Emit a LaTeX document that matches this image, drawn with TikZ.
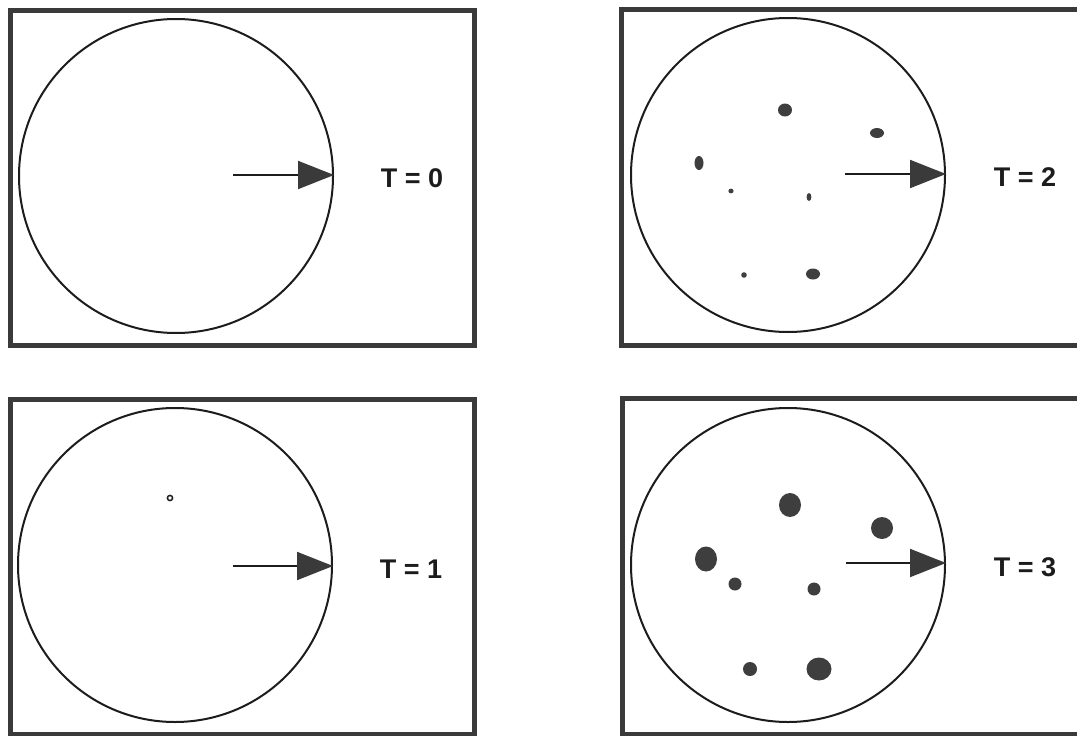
\documentclass[tikz,border=0pt]{standalone}
\usepackage{fontspec}
\setmainfont{Liberation Sans}
\usetikzlibrary{arrows.meta}
\definecolor{ink}{HTML}{1C1C1C}
\definecolor{frame}{HTML}{3A3A3A}
\definecolor{blob}{HTML}{3E3E3E}
\tikzset{
  panel/.style={draw=frame, line width=5pt},
  disc/.style={circle, draw=ink, line width=2pt, minimum size=314pt, inner sep=0pt},
  flow/.style={draw=ink, line width=2pt, -{Triangle[length=36pt, width=28pt, fill=frame, color=frame]}},
  lbl/.style={font=\fontsize{27}{30}\selectfont\bfseries, text=ink},
  blobfill/.style={fill=blob},
}
\begin{document}
\begin{tikzpicture}[x=1pt, y=-1pt]
  \clip (0,0) rectangle (1077,736);
  \fill[white] (0,0) rectangle (1077,736);

  % frames
  \draw[panel] (10,10) rectangle (474,345.5);
  \draw[panel] (621.5,9.5) rectangle (1100,345);
  \draw[panel] (10,399) rectangle (474,734);
  \draw[panel] (622,398) rectangle (1100,734);

  % T = 0
  \node[disc] (c0) at (176,176) {};
  \coordinate (s0) at (233,175);
  \draw[flow] (s0) -- (s0 -| c0.east);
  \node[lbl] (t0) at (412,178) {T = 0};

  % T = 1
  \node[disc] (c1) at (175,565) {};
  \coordinate (s1) at (233,566);
  \draw[flow] (s1) -- (s1 -| c1.east);
  \node[lbl] (t1) at (411,569) {T = 1};
  \draw[ink, line width=1.5pt] (170,498) circle [radius=2.6];

  % T = 2
  \node[disc] (c2) at (788,175) {};
  \coordinate (s2) at (845,174);
  \draw[flow] (s2) -- (s2 -| c2.east);
  \node[lbl] (t2) at (1025,177) {T = 2};
  \fill[blobfill] (785,110) ellipse [x radius=7, y radius=6.5];
  \fill[blobfill] (877,133) ellipse [x radius=7, y radius=5];
  \fill[blobfill] (699,163) ellipse [x radius=4.5, y radius=7];
  \fill[blobfill] (731,191) ellipse [x radius=2.6, y radius=2.4];
  \fill[blobfill] (809,197) ellipse [x radius=2.4, y radius=4];
  \fill[blobfill] (744,275) ellipse [x radius=2.8, y radius=2.8];
  \fill[blobfill] (813,274) ellipse [x radius=7, y radius=5.5];

  % T = 3
  \node[disc] (c3) at (788,565) {};
  \coordinate (s3) at (846,563);
  \draw[flow] (s3) -- (s3 -| c3.east);
  \node[lbl] (t3) at (1025,567) {T = 3};
  \fill[blobfill] (790,505) ellipse [x radius=11, y radius=12];
  \fill[blobfill] (882,528) ellipse [x radius=11, y radius=11];
  \fill[blobfill] (706,559) ellipse [x radius=11, y radius=12.5];
  \fill[blobfill] (735,584) ellipse [x radius=6.5, y radius=6.5];
  \fill[blobfill] (814,589) ellipse [x radius=6.5, y radius=6.5];
  \fill[blobfill] (750,669) ellipse [x radius=7, y radius=7];
  \fill[blobfill] (819,669) ellipse [x radius=12.5, y radius=11.5];
\end{tikzpicture}
\end{document}
